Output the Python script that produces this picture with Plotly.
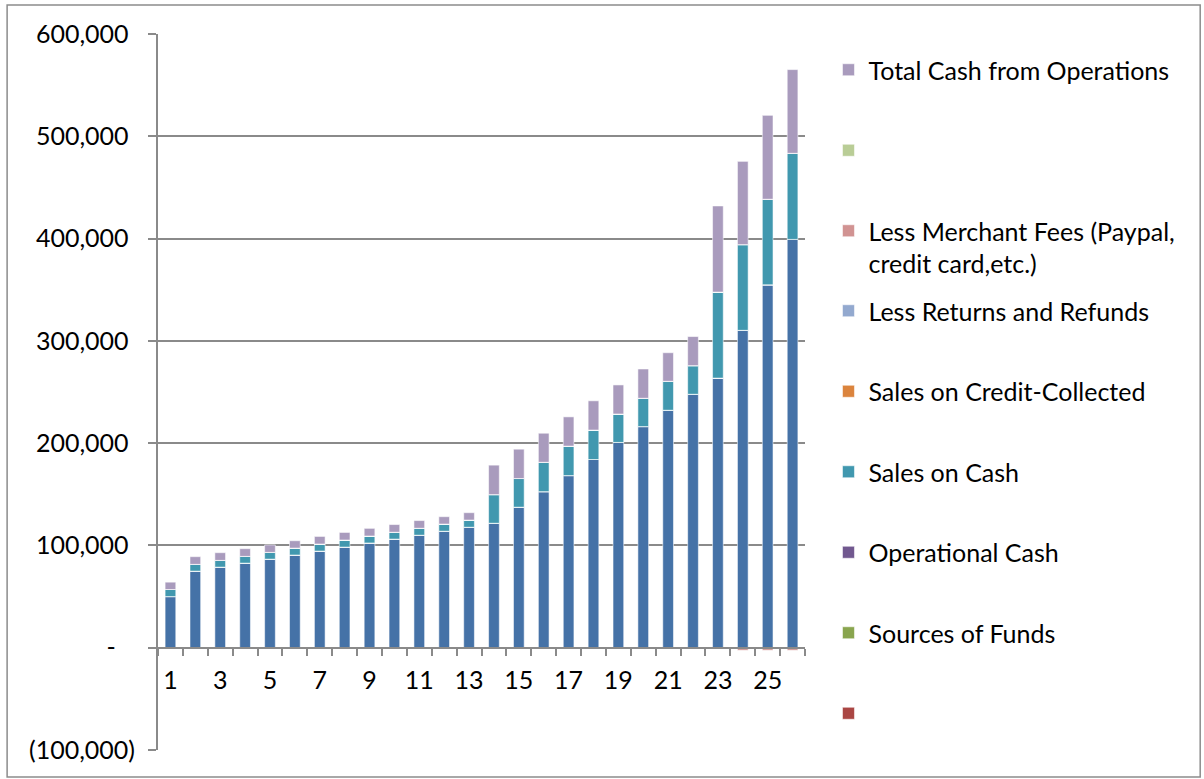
import plotly.graph_objects as go

# ---------------- data ----------------
periods = [1, 2, 3, 4, 5, 6, 7, 8, 9, 10, 11, 12, 13,
           14, 15, 16, 17, 18, 19, 20, 21, 22, 23, 24, 25, 26]
period_labels = ["1", "3", "5", "7", "9", "11", "13", "15", "17", "19", "21", "23", "25"]
period_label_pos = [1, 3, 5, 7, 9, 11, 13, 15, 17, 19, 21, 23, 25]

# unnamed first series (legend entry removed in the original)
base_cash = [50000, 74900, 78800, 82700, 86600, 90600, 94500, 98400, 102400, 106200,
             110000, 113900, 117800, 121700, 137400, 152600, 168300, 184000, 200700,
             216200, 232200, 247800, 263600, 310300, 354800, 399200]
sales_on_cash = [6900, 6600, 6600, 6600, 6600, 6800, 6900, 6900, 6800, 6700, 6800, 7000,
                 7000, 28000, 28000, 28700, 28800, 28800, 27800, 27700, 28300, 28000,
                 84100, 83800, 83700, 84200]
total_cash_ops = [7200, 7500, 7500, 7500, 7300, 7200, 7400, 7400, 7500, 7500, 7500, 7200,
                  7200, 28800, 28700, 28400, 28600, 28600, 28400, 28600, 27900, 28400,
                  84200, 81400, 82000, 81800]
merchant_fees = [0, 0, 0, 0, 0, 0, 0, 0, 0, 0, 0, 0, 0,
                 0, 0, 0, 0, 0, 0, 0, 0, 0, 0, -2500, -2500, -2500]
blank_red = [0, 0, 0, 0, 0, 0, 0, 0, 0, 0, 0, 0, 0, 0, 0, 0, 0, 0, 0, 0, 0, 0, 0, 0, 0, 0]
sources_of_funds = [0, 0, 0, 0, 0, 0, 0, 0, 0, 0, 0, 0, 0, 0, 0, 0, 0, 0, 0, 0, 0, 0, 0, 0, 0, 0]
operational_cash = [0, 0, 0, 0, 0, 0, 0, 0, 0, 0, 0, 0, 0, 0, 0, 0, 0, 0, 0, 0, 0, 0, 0, 0, 0, 0]
sales_on_credit = [0, 0, 0, 0, 0, 0, 0, 0, 0, 0, 0, 0, 0, 0, 0, 0, 0, 0, 0, 0, 0, 0, 0, 0, 0, 0]
returns_refunds = [0, 0, 0, 0, 0, 0, 0, 0, 0, 0, 0, 0, 0, 0, 0, 0, 0, 0, 0, 0, 0, 0, 0, 0, 0, 0]
blank_green = [0, 0, 0, 0, 0, 0, 0, 0, 0, 0, 0, 0, 0, 0, 0, 0, 0, 0, 0, 0, 0, 0, 0, 0, 0, 0]

y_tick_vals = [-100000, 0, 100000, 200000, 300000, 400000, 500000, 600000]
y_tick_text = ["(100,000)", "-\u00a0\u00a0\u00a0", "100,000\u00a0", "200,000\u00a0",
               "300,000\u00a0", "400,000\u00a0", "500,000\u00a0", "600,000\u00a0"]

# (name, values, colour, legend, rank)
series = [
    ("", base_cash, "#4572A7", None, 0),
    (" ", blank_red, "#AA4643", "legend2", 9),
    ("Sources of Funds", sources_of_funds, "#89A54E", "legend2", 8),
    ("Operational Cash", operational_cash, "#71588F", "legend2", 7),
    ("Sales on Cash", sales_on_cash, "#4198AF", "legend2", 6),
    ("Sales on Credit-Collected", sales_on_credit, "#DB843D", "legend2", 5),
    ("Less Returns and Refunds", returns_refunds, "#93A9CF", "legend2", 4),
    ("Less Merchant Fees (Paypal,<br>credit card,etc.)", merchant_fees, "#D19392", "legend", 3),
    ("  ", blank_green, "#B9CD96", "legend", 2),
    ("Total Cash from Operations", total_cash_ops, "#A99BBD", "legend", 1),
]

FONT = "Lato"
FS = 25
GRID = "#8A8A8A"

fig = go.Figure()
for i, (name, vals, col, leg, rank) in enumerate(series):
    fig.add_trace(go.Bar(
        x=periods, y=vals, name=name,
        marker=dict(color=col, line=dict(color="rgba(255,255,255,0.55)", width=1)),
        width=0.43,
        showlegend=leg is not None,
        legend=leg if leg else "legend",
        legendgroup="g%d" % i,
        legendrank=rank,
    ))

# plot-area pixel geometry
L, R, T, B = 158, 805.5, 34, 750
W, H = 1204, 779

def px_x(p):
    return (p - L) / (R - L)

def px_y(p):
    return (B - p) / (B - T)

legend_common = dict(
    font=dict(family=FONT, size=FS, color="#000000"),
    bgcolor="rgba(0,0,0,0)",
    xanchor="left", yanchor="top",
    tracegroupgap=45,
    valign="top",
    traceorder="grouped",
)

fig.update_layout(
    width=W, height=H,
    margin=dict(l=L, r=W - R, t=T, b=H - B, pad=0),
    paper_bgcolor="white", plot_bgcolor="white",
    barmode="relative",
    font=dict(family=FONT, size=FS, color="#000000"),
    legend=dict(x=px_x(829), y=px_y(47), **legend_common),
    legend2=dict(x=px_x(829), y=px_y(288), **legend_common),
    xaxis=dict(
        range=[0.5, 26.5],
        tickmode="array", tickvals=period_label_pos, ticktext=period_labels,
        ticks="", showgrid=False, zeroline=False,
        showline=True, linecolor=GRID, linewidth=2,
        anchor="free", position=px_y(648),
        ticklabelstandoff=10,
        minor=dict(tickmode="linear", tick0=0.5, dtick=1, ticks="outside",
                   ticklen=7, tickwidth=2, tickcolor=GRID, showgrid=False),
        tickfont=dict(family=FONT, size=FS, color="#000000"),
    ),
    yaxis=dict(
        range=[-100000, 600000],
        tickmode="array", tickvals=y_tick_vals, ticktext=y_tick_text,
        showgrid=True, gridcolor=GRID, gridwidth=2,
        zeroline=False,
        showline=True, linecolor=GRID, linewidth=2,
        ticks="outside", ticklen=8, tickwidth=2, tickcolor=GRID,
        ticklabelstandoff=8,
        tickfont=dict(family=FONT, size=FS, color="#000000"),
    ),
    shapes=[dict(type="rect", xref="paper", yref="paper",
                 x0=px_x(7), x1=px_x(1201), y0=px_y(777), y1=px_y(5),
                 line=dict(color="#8C8C8C", width=1.5), layer="below")],
)

fig.write_html("out.html", config={"displayModeBar": False},
               post_script="document.body.style.margin='0';")
